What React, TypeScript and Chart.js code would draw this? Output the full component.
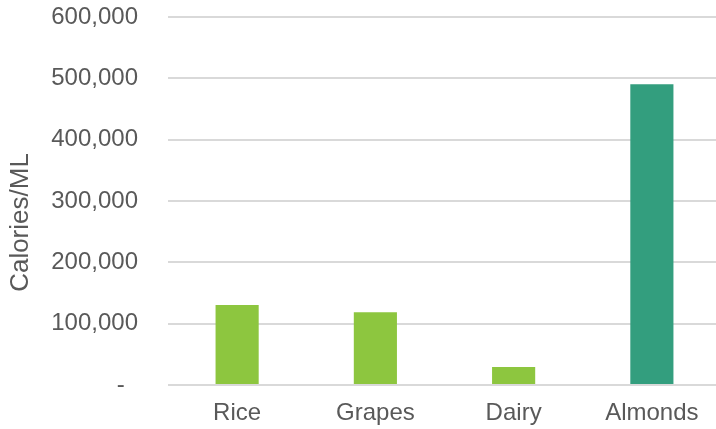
import React, { useEffect, useRef } from "react";
import { Chart, registerables } from "chart.js";

Chart.register(...registerables);

const categories = ["Rice", "Grapes", "Dairy", "Almonds"];
const caloriesPerML = [130500, 118500, 29500, 490500];
const barColors = ["#8DC63F", "#8DC63F", "#8DC63F", "#339E7E"];
const yTitle = "Calories/ML";

const FONT = "'Liberation Sans', Arial, sans-serif";
const TEXT = "#595959";

export default function App() {
  const ref = useRef<HTMLCanvasElement | null>(null);

  useEffect(() => {
    if (!ref.current) return;
    const titlePlugin = {
      id: "yTitle",
      afterDraw(chart: any) {
        const ctx = chart.ctx;
        ctx.save();
        ctx.translate(20.5, 222.5);
        ctx.rotate(-Math.PI / 2);
        ctx.font = `26px ${FONT}`;
        ctx.fillStyle = TEXT;
        ctx.textAlign = "center";
        ctx.textBaseline = "middle";
        ctx.fillText(yTitle, 0, 0);
        ctx.restore();
      },
    };
    const chart = new Chart(ref.current, {
      type: "bar",
      data: {
        labels: categories,
        datasets: [
          {
            data: caloriesPerML,
            backgroundColor: barColors,
            borderWidth: 0,
            barPercentage: 0.312,
            categoryPercentage: 1,
          },
        ],
      },
      options: {
        responsive: false,
        animation: false,
        layout: { padding: { top: 17, right: 0, left: 0, bottom: 0 } },
        plugins: { legend: { display: false }, tooltip: { enabled: false } },
        scales: {
          x: {
            grid: { display: false, drawTicks: false },
            border: { display: false },
            ticks: {
              font: { family: FONT, size: 24 },
              color: TEXT,
              padding: 14,
              maxRotation: 0,
            },
            afterFit: (s: any) => {
              s.height = 44;
            },
          },
          y: {
            min: 0,
            max: 600000,
            grid: { color: "#D9D9D9", lineWidth: 2, drawTicks: false },
            border: { display: false },
            ticks: {
              stepSize: 100000,
              font: { family: FONT, size: 24 },
              color: TEXT,
              padding: 30,
              callback: (v: any) =>
                Number(v) === 0 ? "-  " : Number(v).toLocaleString("en-US"),
            },
            afterFit: (s: any) => {
              s.width = 168;
              s.paddingTop = 0;
              s.paddingBottom = 0;
            },
          },
        },
      },
      plugins: [titlePlugin],
    });
    return () => chart.destroy();
  }, []);

  return (
    <div style={{ position: "fixed", left: 0, top: 0, width: 721, height: 429, background: "#fff" }}>
      <canvas ref={ref} width={721} height={429} style={{ display: "block" }} />
    </div>
  );
}
